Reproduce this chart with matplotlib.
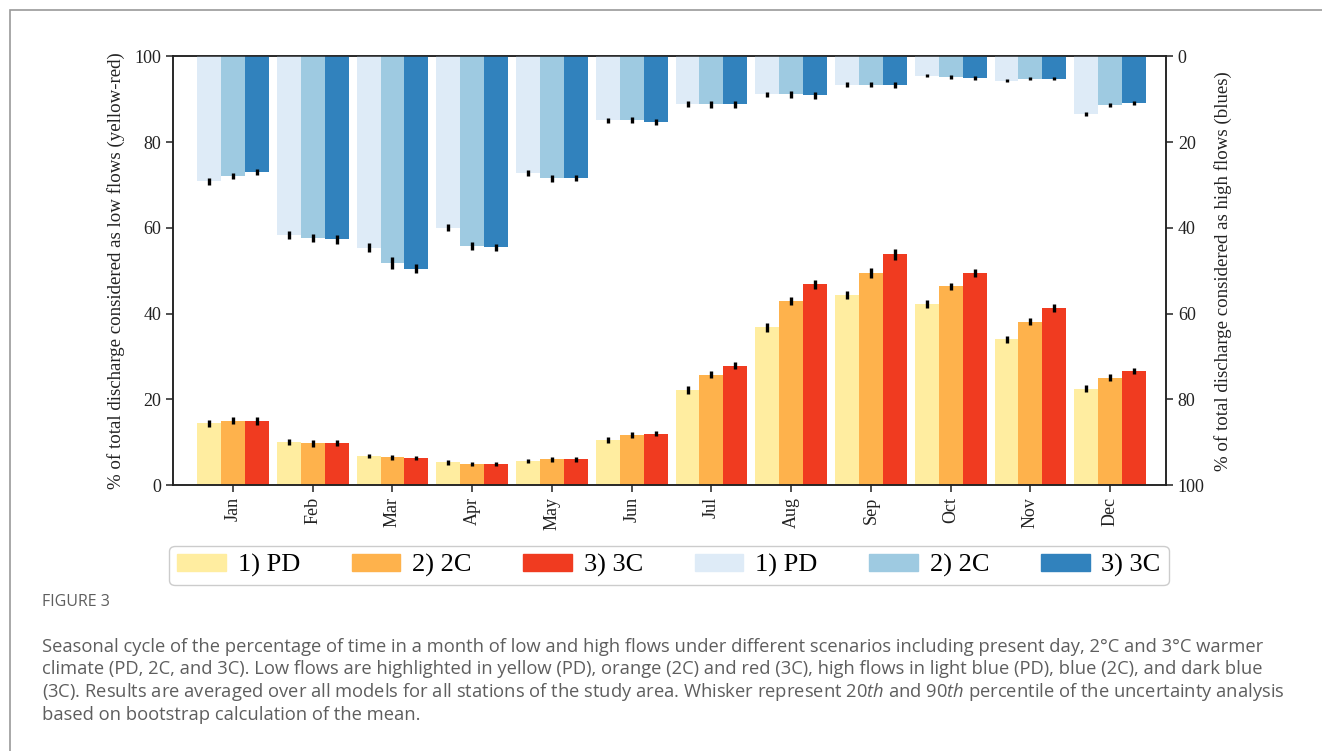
import numpy as np
import matplotlib
matplotlib.use('Agg')
import matplotlib.pyplot as plt
from matplotlib.patches import Patch, Rectangle

months = ['Jan', 'Feb', 'Mar', 'Apr', 'May', 'Jun',
          'Jul', 'Aug', 'Sep', 'Oct', 'Nov', 'Dec']
scenarios = ['1) PD', '2) 2C', '3) 3C']

# low flows, % of time (left axis)
low_pd = [14.4, 10.0, 6.8, 5.3, 5.7, 10.6, 22.2, 36.8, 44.3, 42.3, 34.0, 22.5]
low_2c = [15.0, 9.8, 6.5, 5.0, 6.0, 11.7, 25.8, 42.9, 49.4, 46.4, 38.1, 25.1]
low_3c = [15.0, 9.8, 6.3, 5.0, 6.0, 12.0, 27.9, 46.8, 53.8, 49.4, 41.3, 26.6]
low_pd_err = [0.9, 0.7, 0.5, 0.5, 0.5, 0.7, 0.9, 1.0, 0.9, 0.9, 0.8, 0.8]
low_2c_err = [0.8, 0.8, 0.6, 0.5, 0.5, 0.6, 0.8, 1.0, 1.2, 0.8, 0.8, 0.8]
low_3c_err = [0.9, 0.7, 0.5, 0.5, 0.5, 0.6, 0.8, 1.0, 1.3, 0.9, 0.9, 0.7]

# high flows, % of time (right axis, inverted)
high_pd = [29.1, 41.6, 44.6, 40.0, 27.2, 14.9, 11.2, 8.9, 6.6, 4.5, 5.7, 13.5]
high_2c = [28.0, 42.4, 48.2, 44.3, 28.4, 14.9, 11.2, 8.9, 6.6, 4.8, 5.2, 11.4]
high_3c = [26.9, 42.7, 49.5, 44.5, 28.3, 15.4, 11.2, 9.1, 6.8, 5.0, 5.2, 10.9]
high_pd_err = [0.8, 0.9, 1.1, 0.8, 0.7, 0.6, 0.7, 0.6, 0.5, 0.4, 0.4, 0.5]
high_2c_err = [0.7, 1.0, 1.3, 0.9, 0.8, 0.7, 0.8, 0.8, 0.6, 0.5, 0.4, 0.4]
high_3c_err = [0.7, 1.0, 1.0, 0.8, 0.7, 0.7, 0.8, 0.8, 0.7, 0.5, 0.4, 0.4]

low_colors = ['#ffeda0', '#feb24c', '#f03b20']
high_colors = ['#deebf7', '#9ecae1', '#3182bd']

plt.rcParams['font.family'] = ['Liberation Serif', 'DejaVu Serif']
plt.rcParams['mathtext.fontset'] = 'custom'
plt.rcParams['mathtext.rm'] = 'Open Sans'
plt.rcParams['mathtext.it'] = 'Open Sans:italic'

fig = plt.figure(figsize=(13.22, 7.51), dpi=100)
ax = fig.add_axes([0.131, 0.354, 0.751, 0.571])
ax2 = ax.twinx()

x = np.arange(len(months))
w = 0.3
lows = [(low_pd, low_pd_err), (low_2c, low_2c_err), (low_3c, low_3c_err)]
highs = [(high_pd, high_pd_err), (high_2c, high_2c_err), (high_3c, high_3c_err)]

for i, (vals, err) in enumerate(lows):
    ax.bar(x + (i - 1) * w, vals, w, color=low_colors[i], yerr=err,
           error_kw=dict(ecolor='black', elinewidth=2.4, capsize=0))
for i, (vals, err) in enumerate(highs):
    ax2.bar(x + (i - 1) * w, vals, w, color=high_colors[i], yerr=err,
            error_kw=dict(ecolor='black', elinewidth=2.4, capsize=0))

ax.set_xlim(-0.75, 11.70)
ax.set_ylim(0, 100)
ax2.set_ylim(100, 0)
ax.set_yticks([0, 20, 40, 60, 80, 100])
ax2.set_yticks([0, 20, 40, 60, 80, 100])
ax.set_xticks(x)
ax.set_xticklabels(months, rotation=90)

for a in (ax, ax2):
    a.tick_params(labelsize=13, length=5, width=1.1, color='#222222',
                  labelcolor='#222222')
    for s in a.spines.values():
        s.set_linewidth(1.1)
        s.set_color('#222222')

ax.set_ylabel('% of total discharge considered as low flows (yellow-red)',
              fontsize=13.6, color='#222222', labelpad=7)
ax2.set_ylabel('% of total discharge considered as high flows (blues)',
               fontsize=13.6, color='#222222', labelpad=7, rotation=90)

handles = [Patch(color=c) for c in low_colors + high_colors]
labels = scenarios + scenarios
fig.legend(handles, labels, ncol=6, loc='center', bbox_to_anchor=(0.506, 0.247),
           fontsize=19, handlelength=1.85, handleheight=0.65, handletextpad=0.45,
           columnspacing=1.95, borderpad=0.3, fancybox=True, edgecolor='#cccccc',
           framealpha=1)

# outer frame around the figure panel
fig.add_artist(Rectangle((10 / 1322, -0.1), 1.2, 1 - 10 / 751 + 0.1,
                         transform=fig.transFigure, fill=False,
                         edgecolor='#9a9a9a', linewidth=1.2))

cap_color = '#5e5e5e'
fig.text(42 / 1322, 1 - 602 / 751, 'FIGURE 3', family='Open Sans',
         fontsize=11.5, color=cap_color, va='center')
caption = [
    'Seasonal cycle of the percentage of time in a month of low and high flows '
    'under different scenarios including present day, 2°C and 3°C warmer',
    'climate (PD, 2C, and 3C). Low flows are highlighted in yellow (PD), orange (2C) '
    'and red (3C), high flows in light blue (PD), blue (2C), and dark blue',
    '(3C). Results are averaged over all models for all stations of the study area. '
    r'Whisker represent 20$\mathit{th}$ and 90$\mathit{th}$ percentile of the uncertainty analysis',
    'based on bootstrap calculation of the mean.',
]
for k, line in enumerate(caption):
    fig.text(42 / 1322, 1 - (647 + 22.5 * k) / 751, line, family='Open Sans',
             fontsize=13.2, color=cap_color, va='center')

fig.savefig('out.png', dpi=100)
